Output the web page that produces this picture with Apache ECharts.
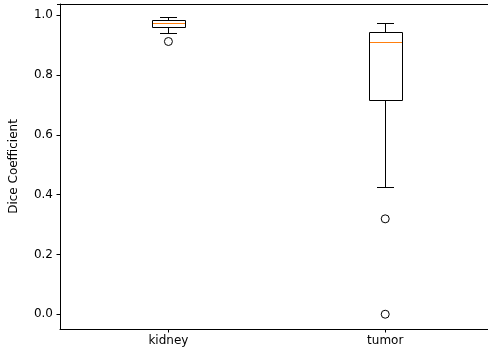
<!DOCTYPE html>
<html><head><meta charset="utf-8">
<script src="https://cdn.jsdelivr.net/npm/echarts@6/dist/echarts.min.js"></script>
<style>html,body{margin:0;padding:0;background:#fff}#c{width:488px;height:354px}</style>
</head><body><div id="c"></div>
<script>
const categories = ['kidney', 'tumor'];
const positions = [1, 2];
const whiskerLow = [0.939, 0.427];
const q1 = [0.962, 0.715];
const median = [0.974, 0.911];
const q3 = [0.985, 0.943];
const whiskerHigh = [0.994, 0.975];
const outlierCat = [0, 1, 1];
const outlierVal = [0.912, 0.319, 0.0];
const yTicks = [0, 0.2, 0.4, 0.6, 0.8, 1.0];

const boxData = categories.map((c, i) => [positions[i], whiskerLow[i], q1[i], median[i], q3[i], whiskerHigh[i]]);
const outData = outlierCat.map((c, i) => [positions[c], outlierVal[i]]);
const font = 'DejaVu Sans';

const chart = echarts.init(document.getElementById('c'), null, {renderer: 'canvas'});
chart.setOption({
  animation: false,
  grid: {left: 57, top: 4, right: 0, bottom: 25, show: false},
  xAxis: [{
    type: 'value', min: 0.5, max: 2.474,
    axisLine: {onZero: false, lineStyle: {color: '#000', width: 1}},
    axisTick: {length: 3.5, customValues: positions, lineStyle: {color: '#000'}},
    axisLabel: {color: '#000', fontFamily: font, fontSize: 12, margin: 6, customValues: positions,
      formatter: v => categories[positions.indexOf(v)] || ''},
    splitLine: {show: false}
  }],
  yAxis: {
    type: 'value', min: -0.0494, max: 1.0374,
    name: 'Dice Coefficient', nameLocation: 'middle', nameGap: 40,
    nameTextStyle: {color: '#000', fontFamily: font, fontSize: 12},
    axisLine: {show: true, onZero: false, lineStyle: {color: '#000', width: 1}},
    axisTick: {show: true, length: 3.5, customValues: yTicks, lineStyle: {color: '#000'}},
    axisLabel: {color: '#000', fontFamily: font, fontSize: 12, margin: 7, customValues: yTicks,
      formatter: v => v.toFixed(1)},
    splitLine: {show: false}
  },
  graphic: [{
    type: 'line', shape: {x1: 57, y1: 4.5, x2: 488, y2: 4.5},
    style: {stroke: '#000', lineWidth: 1}, silent: true
  }],
  series: [
    {
      type: 'custom',
      data: boxData,
      encode: {x: 0, y: [1, 2, 3, 4, 5]},
      renderItem: (params, api) => {
        const p = api.value(0);
        const bw = api.size([0.15, 0])[0];
        const hw = bw / 2, cw = bw / 4;
        const cx = Math.round(api.coord([p, 0])[0]) + 0.5;
        const y = k => Math.round(api.coord([p, api.value(k)])[1]) + 0.5;
        const yl = y(1), y1 = y(2), ym = y(3), y3 = y(4), yh = y(5);
        const st = {stroke: '#000', lineWidth: 1, fill: null};
        const L = (a1, b1, a2, b2, s) => ({type: 'line', shape: {x1: a1, y1: b1, x2: a2, y2: b2}, style: s || st});
        const x0 = Math.round(cx - hw), x1r = Math.round(cx + hw);
        return {type: 'group', children: [
          L(cx, y1, cx, yl),
          L(cx, y3, cx, yh),
          L(Math.round(cx - cw), yl, Math.round(cx + cw), yl),
          L(Math.round(cx - cw), yh, Math.round(cx + cw), yh),
          {type: 'rect', shape: {x: x0 + 0.5, y: y3, width: x1r - x0, height: y1 - y3}, style: st},
          L(x0 + 1, ym, x1r, ym, {stroke: '#ff7f0e', lineWidth: 1})
        ]};
      },
      z: 2
    },
    {
      type: 'scatter',
      data: outData,
      symbol: 'circle', symbolSize: 8,
      itemStyle: {color: 'rgba(0,0,0,0)', borderColor: '#000', borderWidth: 1, opacity: 1},
      z: 3
    }
  ]
});
</script>
</body></html>
